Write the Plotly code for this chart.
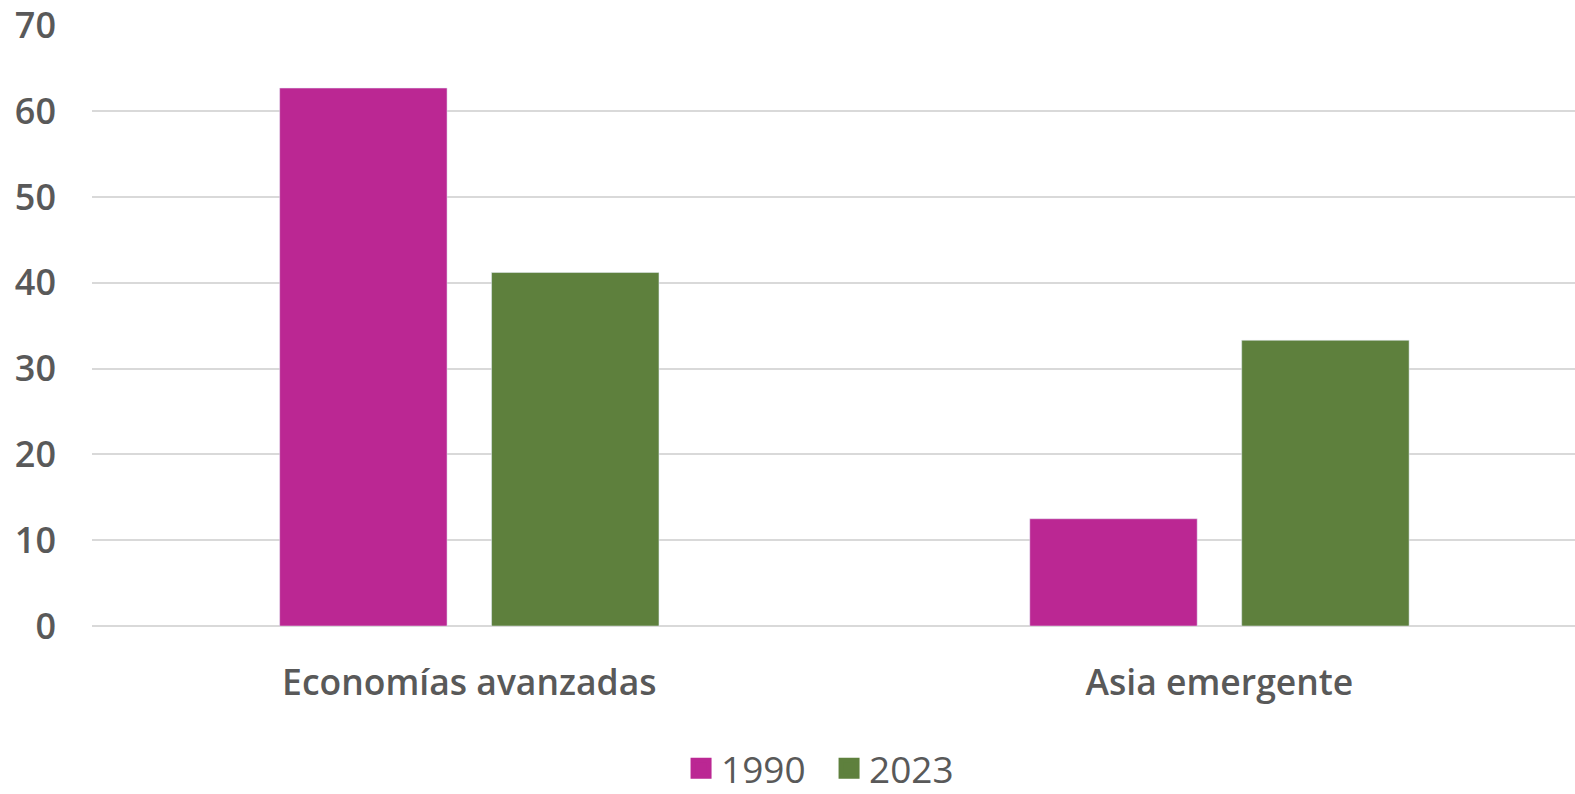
"""Bar chart: Economías avanzadas vs Asia emergente, 1990 y 2023."""
import plotly.graph_objects as go

CATEGORIES = ["Economías avanzadas", "Asia emergente"]
VALUES_1990 = [62.7, 12.5]
VALUES_2023 = [41.2, 33.3]
Y_TICKS = [0, 10, 20, 30, 40, 50, 60, 70]
SERIES = [("1990", VALUES_1990, "#BB2793"), ("2023", VALUES_2023, "#5E803D")]

GRAY = "#595959"
GRID = "#d9d9d9"
FONT = "Open Sans"

fig = go.Figure()
for name, vals, color in SERIES:
    fig.add_trace(go.Bar(x=CATEGORIES, y=vals, name=name, marker_color=color, showlegend=False))
# legend entries: big square markers (bar legend symbols are tiny)
for name, vals, color in SERIES:
    fig.add_trace(go.Scatter(
        x=[None], y=[None], mode="markers", name=name,
        marker=dict(symbol="square", size=16, color=color, line=dict(color=color, width=5)),
    ))

fig.update_layout(
    width=1575, height=794,
    plot_bgcolor="white", paper_bgcolor="white",
    barmode="group", bargap=0.435, bargroupgap=0.21,
    margin=dict(l=92, r=0, t=25, b=168),
    font=dict(family=FONT, color=GRAY),
    legend=dict(
        orientation="h", x=0.497, xanchor="center", xref="paper",
        y=0.032, yanchor="middle", yref="container",
        font=dict(size=37, color=GRAY, family=FONT),
        itemwidth=30, itemsizing="trace", tracegroupgap=0,
        entrywidth=103, entrywidthmode="pixels",
    ),
    xaxis=dict(
        range=[-0.503, 1.474], showgrid=False, showline=False, automargin=False,
        tickfont=dict(size=35.5, color=GRAY, family=FONT, weight=600),
        ticks="outside", ticklen=25, tickcolor="rgba(0,0,0,0)",
    ),
    yaxis=dict(
        range=[0, 70.05], tickvals=Y_TICKS, showgrid=True, gridcolor=GRID, gridwidth=2,
        zeroline=True, zerolinecolor=GRID, zerolinewidth=2, showline=False, automargin=False,
        tickfont=dict(size=36, color=GRAY, family=FONT, weight=600),
        ticklabelstandoff=35,
    ),
)

# page has a default body margin; drop it so the figure sits at the window corner
fig.write_html(
    "out.html",
    config={"displayModeBar": False},
    post_script="document.body.style.margin='0';",
)
